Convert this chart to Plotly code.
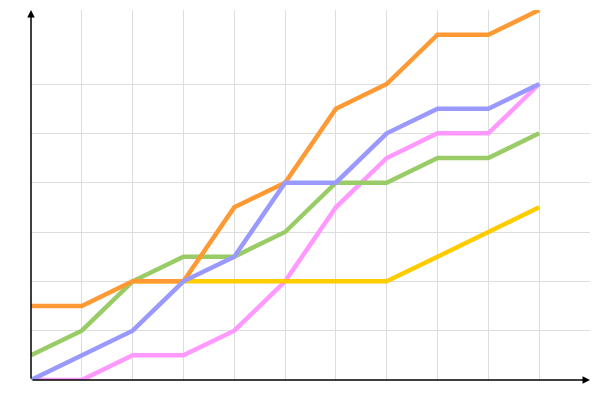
import plotly.graph_objects as go

x_vals = list(range(11))
pink = [0, 0, 0.5, 0.5, 1, 2, 3.5, 4.5, 5, 5, 6]
yellow = [None, None, 2, 2, 2, 2, 2, 2, 2.5, 3, 3.5]
green = [0.5, 1, 2, 2.5, 2.5, 3, 4, 4, 4.5, 4.5, 5]
orange = [1.5, 1.5, 2, 2, 3.5, 4, 5.5, 6, 7, 7, 7.5]
blue = [0, 0.5, 1, 2, 2.5, 4, 4, 5, 5.5, 5.5, 6]

series = [
    ("pink", pink, "#ff99ff"),
    ("yellow", yellow, "#ffcc00"),
    ("green", green, "#99cc66"),
    ("orange", orange, "#ff9933"),
    ("blue", blue, "#9999ff"),
]

fig = go.Figure()
for name, vals, col in series:
    fig.add_trace(go.Scatter(x=x_vals, y=vals, mode="lines", name=name,
                             line=dict(color=col, width=4.5), connectgaps=False,
                             hoverinfo="skip"))

fig.update_layout(
    width=592, height=392,
    margin=dict(l=23, r=10, t=2, b=20, autoexpand=False),
    plot_bgcolor="white", paper_bgcolor="white",
    showlegend=False,
    xaxis=dict(range=[0, 11], tickvals=x_vals, showticklabels=False,
               showgrid=True, gridcolor="#dddddd", gridwidth=1,
               zeroline=False, showline=False, fixedrange=True),
    yaxis=dict(range=[0, 7.5], tickvals=[0, 1, 2, 3, 4, 5, 6], showticklabels=False,
               showgrid=True, gridcolor="#dddddd", gridwidth=1,
               zeroline=False, showline=False, fixedrange=True),
)

# axis lines with arrowheads
fig.add_annotation(x=11, y=0, ax=0, ay=0, xref="x", yref="y", axref="x", ayref="y",
                   text="", showarrow=True, arrowhead=2, arrowsize=1, arrowwidth=1.5,
                   arrowcolor="black")
fig.add_annotation(x=0, y=7.5, ax=0, ay=0, xref="x", yref="y", axref="x", ayref="y",
                   text="", showarrow=True, arrowhead=2, arrowsize=1, arrowwidth=1.5,
                   arrowcolor="black")

fig.write_html("out.html")
